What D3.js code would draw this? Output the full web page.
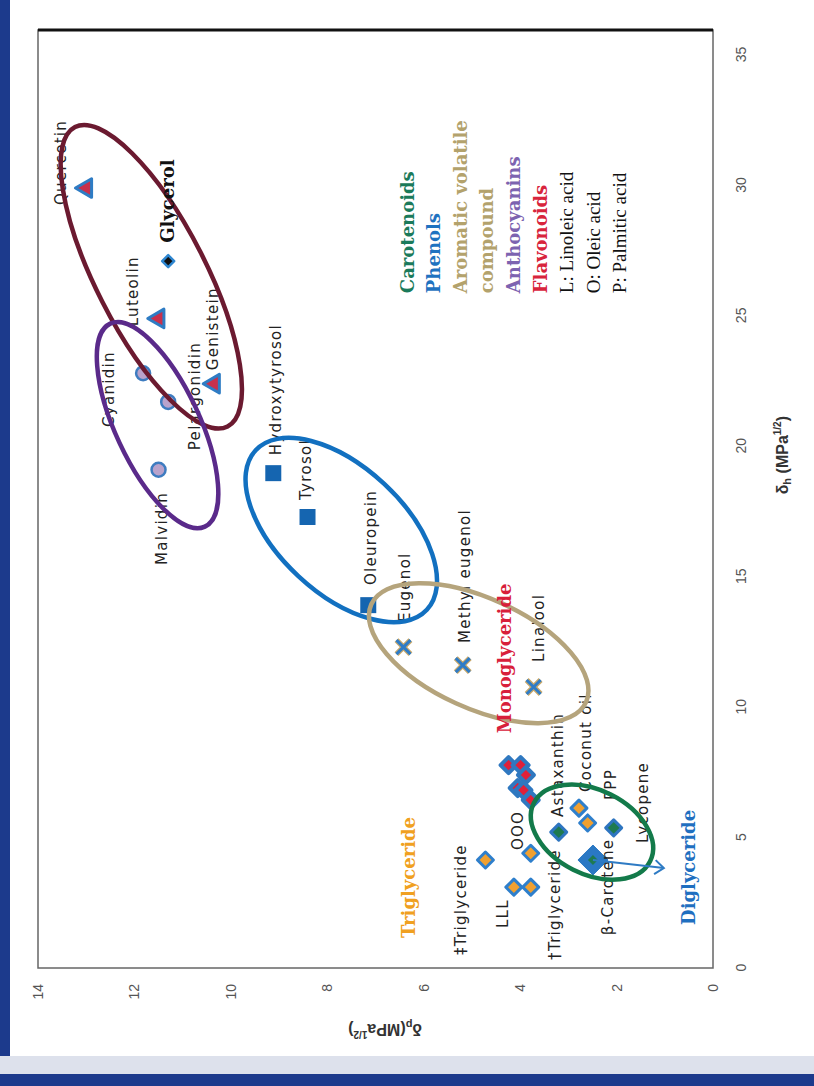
<!DOCTYPE html>
<html>
<head>
<meta charset="utf-8">
<script src="https://cdn.jsdelivr.net/npm/d3@7"></script>
<style>
  body { margin: 0; background: #fff; }
</style>
</head>
<body>
<div id="chart"></div>
<script>
// ---- data (δp, δh in MPa^1/2) ----
const flavonoidNames = ["Quercetin", "Luteolin", "Genistein"];
const flavonoidDp = [13.0, 11.5, 10.35];
const flavonoidDh = [29.9, 24.9, 22.4];

const glycerolDp = [11.3];
const glycerolDh = [27.1];

const anthocyaninNames = ["Cyanidin", "Pelargonidin", "Malvidin"];
const anthocyaninDp = [11.82, 11.3, 11.5];
const anthocyaninDh = [22.8, 21.7, 19.1];

const phenolNames = ["Hydroxytyrosol", "Tyrosol", "Oleuropein"];
const phenolDp = [9.12, 8.41, 7.15];
const phenolDh = [18.97, 17.29, 13.91];

const aromaticNames = ["Eugenol", "Methyl eugenol", "Linalool"];
const aromaticDp = [6.42, 5.19, 3.72];
const aromaticDh = [12.3, 11.61, 10.77];

const carotenoidNames = ["Astaxanthin", "Lycopene"];
const carotenoidDp = [3.2, 2.06];
const carotenoidDh = [5.21, 5.37];
const betaCaroteneDp = [2.49];
const betaCaroteneDh = [4.14];

const triglycerideDp = [4.72, 3.78, 4.13, 3.78, 2.78, 2.6];
const triglycerideDh = [4.14, 4.4, 3.1, 3.1, 6.13, 5.56];

const glycerideDp = [4.24, 3.99, 3.88, 4.05, 3.93, 3.78];
const glycerideDh = [7.78, 7.78, 7.4, 6.9, 6.82, 6.44];

const dhTicks = [0, 5, 10, 15, 20, 25, 30, 35];
const dpTicks = [0, 2, 4, 6, 8, 10, 12, 14];

// point labels: text, δh where the text starts, δp of its baseline
const labelText = ["Quercetin", "Luteolin", "Genistein", "Cyanidin", "Pelargonidin", "Malvidin",
  "Hydroxytyrosol", "Tyrosol", "Oleuropein", "Eugenol", "Methyl eugenol", "Linalool",
  "Astaxanthin", "Coconut oil", "PPP", "Lycopene", "β-Carotene", "†Triglyceride",
  "LLL", "OOO", "‡Triglyceride"];
const labelDh = [29.25, 24.6, 22.92, 20.74, 19.85, 15.45, 19.66, 17.94, 14.68, 13.26, 12.46, 11.73,
  5.79, 6.75, 6.44, 4.79, 1.26, 0.31, 1.53, 4.52, 0.5];
const labelDp = [13.42, 11.92, 10.26, 12.42, 10.64, 11.32, 8.97, 8.33, 7.0, 6.29, 5.03, 3.51,
  3.12, 2.53, 2.01, 1.35, 2.08, 3.18, 4.26, 3.95, 5.13];

// group labels
const groupText = ["Glycerol", "Monoglyceride", "Triglyceride", "Diglyceride"];
const groupDh = [27.8, 9.0, 1.15, 1.65];
const groupDp = [11.18, 4.2, 6.19, 0.37];
const groupColor = ["#111", "#d8203a", "#f0a020", "#1f6fc0"];

// cluster ellipses: centre (δp, δh)
const clusterDp = [11.65, 11.52, 7.71, 4.86, 2.51];
const clusterDh = [26.5, 20.81, 16.79, 12.07, 5.21];
const clusterColor = ["#6b1a30", "#5a2a8a", "#1270c0", "#b5a47c", "#137a4a"];

// legend
const legendText = ["Carotenoids", "Phenols", "Aromatic volatile", "compound", "Anthocyanins",
  "Flavonoids", "L: Linoleic acid", "O: Oleic acid", "P: Palmitic acid"];
const legendColor = ["#1b7a5a", "#1f72c0", "#b3a26c", "#b3a26c", "#7d63b0", "#d8243c", "#111", "#111", "#111"];

// diglyceride arrow (δp, δh)
const arrowDp = [2.49, 1.02];
const arrowDh = [4.14, 3.83];

// ---- layout ----
const W = 814, H = 1086;
const plotW = 938, plotH = 675;   // unrotated: δh along width, δp along height

const svg = d3.select("#chart").append("svg")
    .attr("width", W)
    .attr("height", H);

// slide border
svg.append("rect").attr("x", 0).attr("y", 0).attr("width", 10).attr("height", H).attr("fill", "#1c3a8c");
svg.append("rect").attr("x", 0).attr("y", 1056).attr("width", W).attr("height", 20).attr("fill", "#dde1ec");
svg.append("rect").attr("x", 0).attr("y", 1074).attr("width", W).attr("height", 12).attr("fill", "#1c3a8c");

// the whole chart is turned a quarter turn counter-clockwise
const g = svg.append("g")
    .attr("transform", "translate(38,968) rotate(-90)");

const x = d3.scaleLinear().domain([0, 35]).range([0, 913]);
const y = d3.scaleLinear().domain([0, 14]).range([plotH, 0]);

// frame
g.append("rect")
    .attr("width", plotW)
    .attr("height", plotH)
    .attr("fill", "#fff")
    .attr("stroke", "#666")
    .attr("stroke-width", 1.5);
g.append("line")
    .attr("x1", plotW).attr("x2", plotW)
    .attr("y1", 0).attr("y2", plotH)
    .attr("stroke", "#111")
    .attr("stroke-width", 3);

// axes
const xAxis = g.append("g")
    .attr("transform", `translate(0,${plotH})`)
    .call(d3.axisBottom(x).tickValues(dhTicks).tickSize(0).tickPadding(23));
const yAxis = g.append("g")
    .call(d3.axisLeft(y).tickValues(dpTicks).tickSize(0).tickPadding(16));
[xAxis, yAxis].forEach(a => {
  a.select(".domain").remove();
  a.selectAll("text")
      .attr("font-family", "Liberation Sans, Arial, sans-serif")
      .attr("font-size", 14)
      .attr("fill", "#555");
});

// axis titles
const xTitle = g.append("text")
    .attr("x", x(19.66))
    .attr("y", 750)
    .attr("text-anchor", "middle")
    .attr("font-family", "Liberation Sans, Arial, sans-serif")
    .attr("font-weight", "bold")
    .attr("font-size", 16)
    .attr("fill", "#333");
xTitle.append("tspan").text("δ");
xTitle.append("tspan").attr("font-size", 11).attr("dy", 3).text("h");
xTitle.append("tspan").attr("dy", -3).text(" (MPa");
xTitle.append("tspan").attr("font-size", 10).attr("dy", -7).text("1/2");
xTitle.append("tspan").attr("dy", 7).text(")");

const yTitle = g.append("text")
    .attr("transform", `translate(-56,${y(6.8)}) rotate(-90)`)
    .attr("text-anchor", "middle")
    .attr("font-family", "Liberation Sans, Arial, sans-serif")
    .attr("font-weight", "bold")
    .attr("font-size", 16)
    .attr("fill", "#333");
yTitle.append("tspan").text("δ");
yTitle.append("tspan").attr("font-size", 11).attr("dy", 3).text("p");
yTitle.append("tspan").attr("dy", -3).text("(MPa");
yTitle.append("tspan").attr("font-size", 10).attr("dy", -7).text("1/2");
yTitle.append("tspan").attr("dy", 7).text(")");

// rhombus marker like Excel's diamond
const rhombus = {
  draw(ctx, size) {
    const r = Math.sqrt(size / 2);
    ctx.moveTo(0, -r);
    ctx.lineTo(r, 0);
    ctx.lineTo(0, r);
    ctx.lineTo(-r, 0);
    ctx.closePath();
  }
};

function pts(dp, dh) { return dp.map((d, i) => ({dp: d, dh: dh[i]})); }

function drawSymbol(data, type, size, fill, stroke, sw) {
  g.append("g")
      .selectAll("path")
      .data(data)
      .join("path")
      .attr("transform", d => `translate(${x(d.dh)},${y(d.dp)})`)
      .attr("d", d3.symbol().type(type).size(size))
      .attr("fill", fill)
      .attr("stroke", stroke)
      .attr("stroke-width", sw)
      .attr("stroke-linejoin", "round");
}

// markers
drawSymbol(pts(glycerideDp, glycerideDh), rhombus, 2 * 8 * 8, "#e0203a", "#2f78c0", 4);
drawSymbol(pts(triglycerideDp, triglycerideDh), rhombus, 2 * 8 * 8, "#f0a030", "#2e7fcc", 3);
drawSymbol(pts(carotenoidDp, carotenoidDh), rhombus, 2 * 8 * 8, "#1e7a50", "#2e75c0", 3);
drawSymbol(pts(betaCaroteneDp, betaCaroteneDh), rhombus, 2 * 15 * 15, "#2a78c4", "#2a78c4", 1);
drawSymbol(pts(betaCaroteneDp, betaCaroteneDh), rhombus, 2 * 5 * 5, "#1e7a50", "none", 0);
drawSymbol(pts(phenolDp, phenolDh), d3.symbolSquare, 16 * 16, "#1565b0", "none", 0);
drawSymbol(pts(anthocyaninDp, anthocyaninDh), d3.symbolCircle, Math.PI * 7 * 7, "#b9a3cc", "#3e7cc0", 2.5);
drawSymbol(pts(flavonoidDp, flavonoidDh), d3.symbolTriangle, 150, "#c8304c", "#2e7cc4", 3);
drawSymbol(pts(glycerolDp, glycerolDh), rhombus, 2 * 6 * 6, "#111", "#2e86d0", 2.5);

// aromatic volatile compounds: X markers
const crosses = g.append("g")
    .selectAll("g")
    .data(pts(aromaticDp, aromaticDh))
    .join("g")
    .attr("transform", d => `translate(${x(d.dh)},${y(d.dp)})`);
[["#c8a86a", 5.5], ["#2f7cc6", 3]].forEach(([c, w]) => {
  crosses.append("path")
      .attr("d", "M-7,-7L7,7M-7,7L7,-7")
      .attr("stroke", c)
      .attr("stroke-width", w)
      .attr("fill", "none");
});

// point labels
g.append("g")
    .selectAll("text")
    .data(labelText)
    .join("text")
    .attr("x", (d, i) => x(labelDh[i]))
    .attr("y", (d, i) => y(labelDp[i]))
    .attr("font-family", "DejaVu Sans, Verdana, sans-serif")
    .attr("font-size", 15)
    .attr("letter-spacing", 1.3)
    .attr("fill", "#222")
    .text(d => d);

// cluster ellipses (sizes in px, angle in unrotated frame)
const clusterRx = [168, 112, 117, 118, 65];
const clusterRy = [55, 42, 63, 55, 42];
const clusterAngle = [-27, -25, -47, -65.5, -63.4];
g.append("g")
    .selectAll("ellipse")
    .data(clusterDp)
    .join("ellipse")
    .attr("cx", (d, i) => x(clusterDh[i]))
    .attr("cy", d => y(d))
    .attr("rx", (d, i) => clusterRx[i])
    .attr("ry", (d, i) => clusterRy[i])
    .attr("transform", (d, i) => `rotate(${clusterAngle[i]},${x(clusterDh[i])},${y(d)})`)
    .attr("fill", "none")
    .attr("stroke", (d, i) => clusterColor[i])
    .attr("stroke-width", 4.5);

// diglyceride arrow
svg.append("defs").append("marker")
    .attr("id", "arrowhead")
    .attr("viewBox", "-10 -8 12 16")
    .attr("markerWidth", 12)
    .attr("markerHeight", 16)
    .attr("markerUnits", "userSpaceOnUse")
    .attr("orient", "auto")
    .append("path")
    .attr("d", "M-9,-7L0,0L-9,7")
    .attr("fill", "none")
    .attr("stroke", "#2e7bc4")
    .attr("stroke-width", 2);
g.append("line")
    .attr("x1", x(arrowDh[0])).attr("y1", y(arrowDp[0]))
    .attr("x2", x(arrowDh[1])).attr("y2", y(arrowDp[1]))
    .attr("stroke", "#2e7bc4")
    .attr("stroke-width", 2)
    .attr("marker-end", "url(#arrowhead)");

// group labels
g.append("g")
    .selectAll("text")
    .data(groupText)
    .join("text")
    .attr("x", (d, i) => x(groupDh[i]))
    .attr("y", (d, i) => y(groupDp[i]))
    .attr("font-family", "DejaVu Serif, serif")
    .attr("font-weight", "bold")
    .attr("font-size", 18)
    .attr("fill", (d, i) => groupColor[i])
    .text(d => d);

// legend text box
const legend = g.append("g")
    .attr("transform", `translate(${x(25.87)},${y(6.21)})`);
legend.selectAll("text")
    .data(legendText)
    .join("text")
    .attr("x", 0)
    .attr("y", (d, i) => i * 26.6)
    .attr("font-family", (d, i) => i < 6 ? "DejaVu Serif, serif" : "Liberation Serif, serif")
    .attr("font-weight", (d, i) => i < 6 ? "bold" : "normal")
    .attr("font-size", (d, i) => i < 6 ? 18 : 19)
    .attr("fill", (d, i) => legendColor[i])
    .text(d => d);
</script>
</body>
</html>
